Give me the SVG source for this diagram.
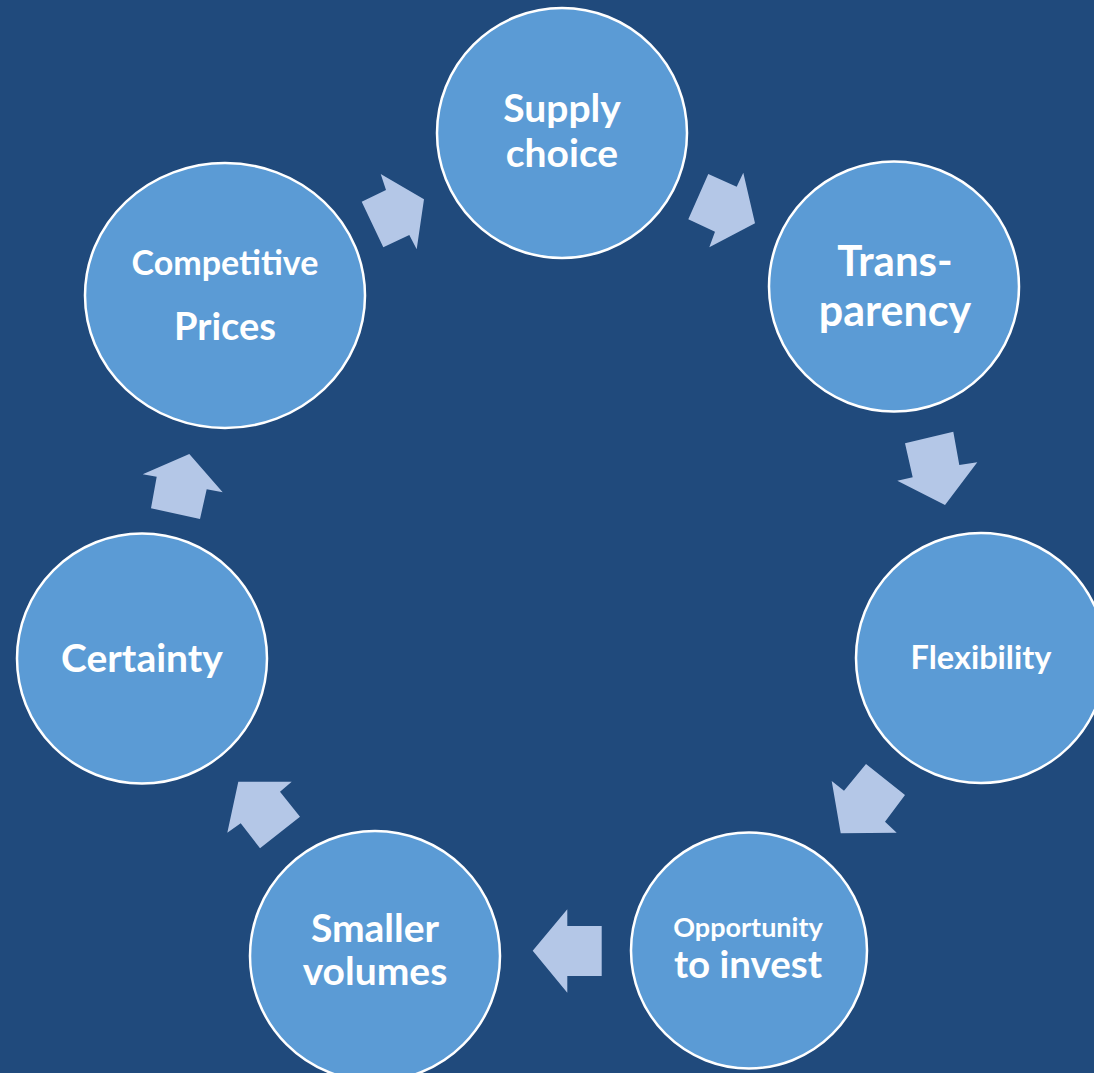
<svg xmlns="http://www.w3.org/2000/svg" width="1094" height="1073" viewBox="0 0 1094 1073">
<style>
.node{fill:#5B9BD5;stroke:#FFFFFF;stroke-width:2.5}
.arrow{fill:#B4C7E7}
text{font-family:Lato,"Open Sans","Liberation Sans",sans-serif;font-weight:700;fill:#FFFFFF;text-anchor:middle}
</style>
<rect x="0" y="0" width="1094" height="1073" fill="#204A7C"/>
<g id="connectors">
<polygon class="arrow" points="361.7,201.7 386,190 380.7,174 424,199.3 416.7,249.3 409.3,235 383.3,247.3"/>
<polygon class="arrow" points="708.3,174 736.7,186.7 743.3,172.7 755,223.3 709.3,247.3 715,231.7 688.3,219.3"/>
<polygon class="arrow" points="905,443.3 953.3,431.7 959.3,465 977.3,462.3 945,505 897.3,480.7 912.7,477.3"/>
<polygon class="arrow" points="866,764 905,795 885,821.7 896.7,832.7 840.7,833.3 831.7,781 844,790.7"/>
<polygon class="arrow" points="601.7,926 601.7,976 567.3,976 567.3,992.7 532.7,950.7 567.3,909.3 567.3,926"/>
<polygon class="arrow" points="300,816.7 260,848.3 240.7,823.3 227.3,832.7 238.3,781.7 291.7,781.7 280,791.7"/>
<polygon class="arrow" points="200,519 151,508.3 156.7,476.7 142.7,474.3 189.3,454 222.7,492.3 206.7,489.3"/>
</g>
<g id="supply-choice">
<circle class="node" cx="562" cy="133" r="125"/>
<text x="562" y="122" font-size="39">Supply</text>
<text x="562" y="167" font-size="39">choice</text>
</g>
<g id="transparency">
<circle class="node" cx="894" cy="286.5" r="125"/>
<text x="895" y="276" font-size="42">Trans-</text>
<text x="895" y="326" font-size="43">parency</text>
</g>
<g id="flexibility">
<circle class="node" cx="981" cy="658" r="125"/>
<text x="981" y="669" font-size="32.5">Flexibility</text>
</g>
<g id="opportunity">
<circle class="node" cx="749" cy="950.5" r="118"/>
<text x="748" y="937" font-size="27">Opportunity</text>
<text x="748" y="978" font-size="38.5">to invest</text>
</g>
<g id="smaller-volumes">
<circle class="node" cx="375" cy="956" r="125"/>
<text x="375" y="942" font-size="39">Smaller</text>
<text x="375" y="985" font-size="39">volumes</text>
</g>
<g id="certainty">
<circle class="node" cx="142" cy="658.5" r="125"/>
<text x="142" y="672" font-size="39">Certainty</text>
</g>
<g id="competitive-prices">
<ellipse class="node" cx="225" cy="295.5" rx="140" ry="132.5"/>
<text x="225" y="275" font-size="34">Competitive</text>
<text x="225" y="340" font-size="38">Prices</text>
</g>
</svg>
